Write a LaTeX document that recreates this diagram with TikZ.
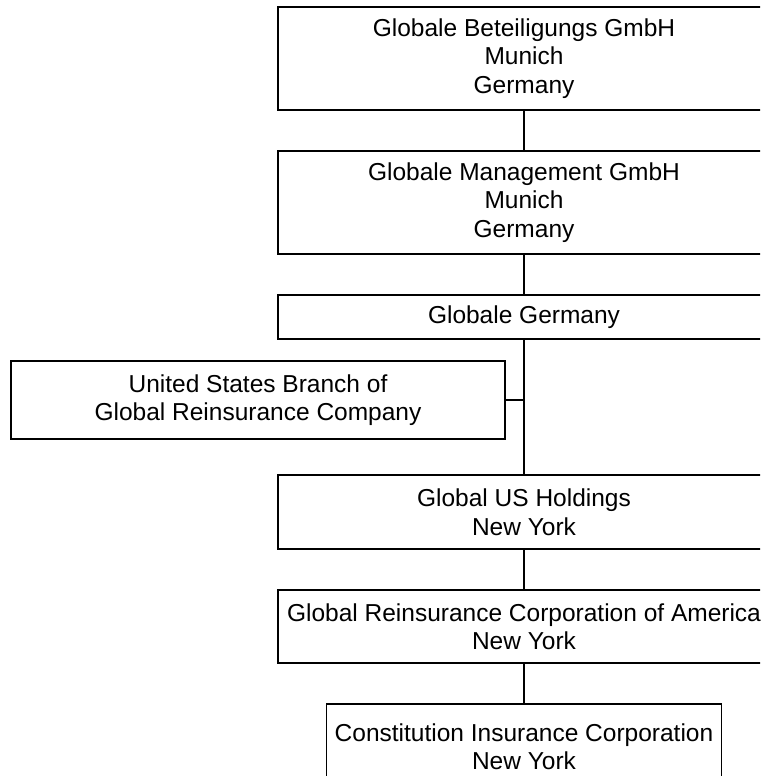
\documentclass[tikz,border=0pt]{standalone}
\usepackage{fontspec}
\setmainfont{Liberation Sans}
\begin{document}
\begin{tikzpicture}[x=1pt,y=-1pt,
  orgbox/.style={draw=black,line width=1.5pt,fill=white,inner sep=0pt,align=center,
    font=\fontsize{24.5}{28.5}\selectfont,text=black},
  link/.style={draw=black,line width=1.5pt}]
\useasboundingbox (0,0) rectangle (760,776);
\clip (0,0) rectangle (760,776);
\node[orgbox,minimum width=492pt,minimum height=103pt] (b1) at (524,58.5) {Globale Beteiligungs GmbH\\Munich\\Germany};
\node[orgbox,minimum width=492pt,minimum height=103pt] (b2) at (524,202.5) {Globale Management GmbH\\Munich\\Germany};
\node[orgbox,minimum width=492pt,minimum height=44pt] (b3) at (524,317) {Globale Germany};
\node[orgbox,minimum width=494pt,minimum height=78pt] (us) at (258,400) {United States Branch of\\Global Reinsurance Company};
\node[orgbox,minimum width=492pt,minimum height=74pt] (b5) at (524,512) {Global US Holdings\\New York};
\node[orgbox,minimum width=492pt,minimum height=73pt] (b6) at (524,626.5) {Global Reinsurance Corporation of America\\New York};
\node[orgbox,minimum width=395pt,minimum height=85pt] (b7) at (524,746.5) {Constitution Insurance Corporation\\New York};
\draw[link] (b1.south) -- (b2.north);
\draw[link] (b2.south) -- (b3.north);
\draw[link] (b3.south) -- (b5.north);
\coordinate (j) at (b3.south |- us.east);
\draw[link] (us.east) -- (j);
\draw[link] (b5.south) -- (b6.north);
\draw[link] (b6.south) -- (b7.north);
\end{tikzpicture}
\end{document}
